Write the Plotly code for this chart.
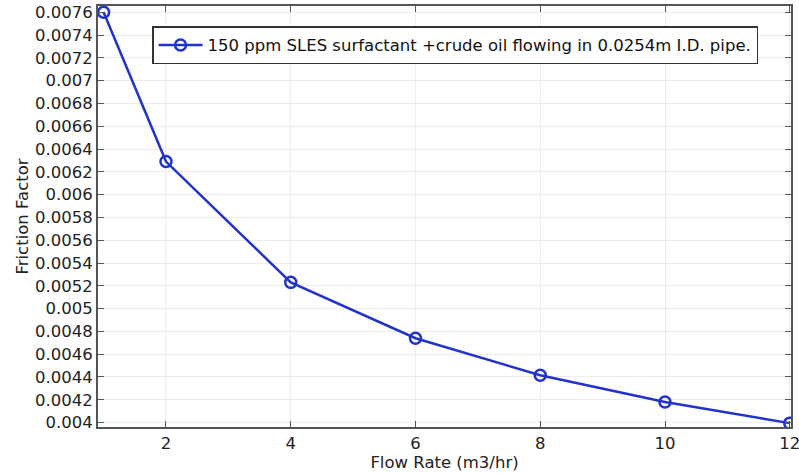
import plotly.graph_objects as go

flow_rate = [1, 2, 4, 6, 8, 10, 12]
friction = [0.0076, 0.00629, 0.00523, 0.00474, 0.004415, 0.00418, 0.003995]
y_ticks = [0.004 + 0.0002 * i for i in range(19)]
y_labels = ["0.004", "0.0042", "0.0044", "0.0046", "0.0048", "0.005", "0.0052", "0.0054",
            "0.0056", "0.0058", "0.006", "0.0062", "0.0064", "0.0066", "0.0068", "0.007",
            "0.0072", "0.0074", "0.0076"]
x_ticks = [2, 4, 6, 8, 10, 12]
series_name = "150 ppm SLES surfactant +crude oil flowing in 0.0254m I.D. pipe."

fig = go.Figure()
fig.add_trace(go.Scatter(
    x=flow_rate, y=friction, mode="lines+markers", name=series_name,
    line=dict(color="#2233cc", width=2.5),
    marker=dict(symbol="circle-open", size=11, color="#2233cc", line=dict(width=2.5)),
    showlegend=True,
))

font = "DejaVu Sans"
fig.update_layout(
    width=799, height=473,
    margin=dict(l=98, r=8, t=6, b=46, autoexpand=False),
    paper_bgcolor="white", plot_bgcolor="white",
    font=dict(family=font, size=16.5, color="#222222"),
    showlegend=True,
    legend=dict(x=0.078, y=0.952, xanchor="left", yanchor="top",
                bgcolor="white", bordercolor="#333333", borderwidth=1.5,
                itemwidth=44,
                font=dict(size=16.5, color="#111111")),
    xaxis=dict(range=[0.91, 12.02], tickvals=x_ticks, ticktext=[str(v) for v in x_ticks],
               showgrid=True, gridcolor="#ececec", gridwidth=1,
               showline=True, linecolor="#555555", linewidth=2, mirror="ticks",
               ticks="inside", ticklen=6, tickcolor="#555555",
               tickfont=dict(size=16.5), ticklabeloverflow="allow", automargin=False,
               title=dict(text="Flow Rate (m3/hr)", font=dict(size=16.5), standoff=0),
               zeroline=False),
    yaxis=dict(range=[0.003961, 0.007655], tickvals=y_ticks, ticktext=y_labels,
               showgrid=True, gridcolor="#ececec", gridwidth=1,
               showline=True, linecolor="#555555", linewidth=2, mirror="ticks",
               ticks="inside", ticklen=6, tickcolor="#555555",
               tickfont=dict(size=16.5), ticklabeloverflow="allow", automargin=False,
               title=dict(text="Friction Factor", font=dict(size=16.5), standoff=2),
               zeroline=False),
)
fig.write_html("out.html")
